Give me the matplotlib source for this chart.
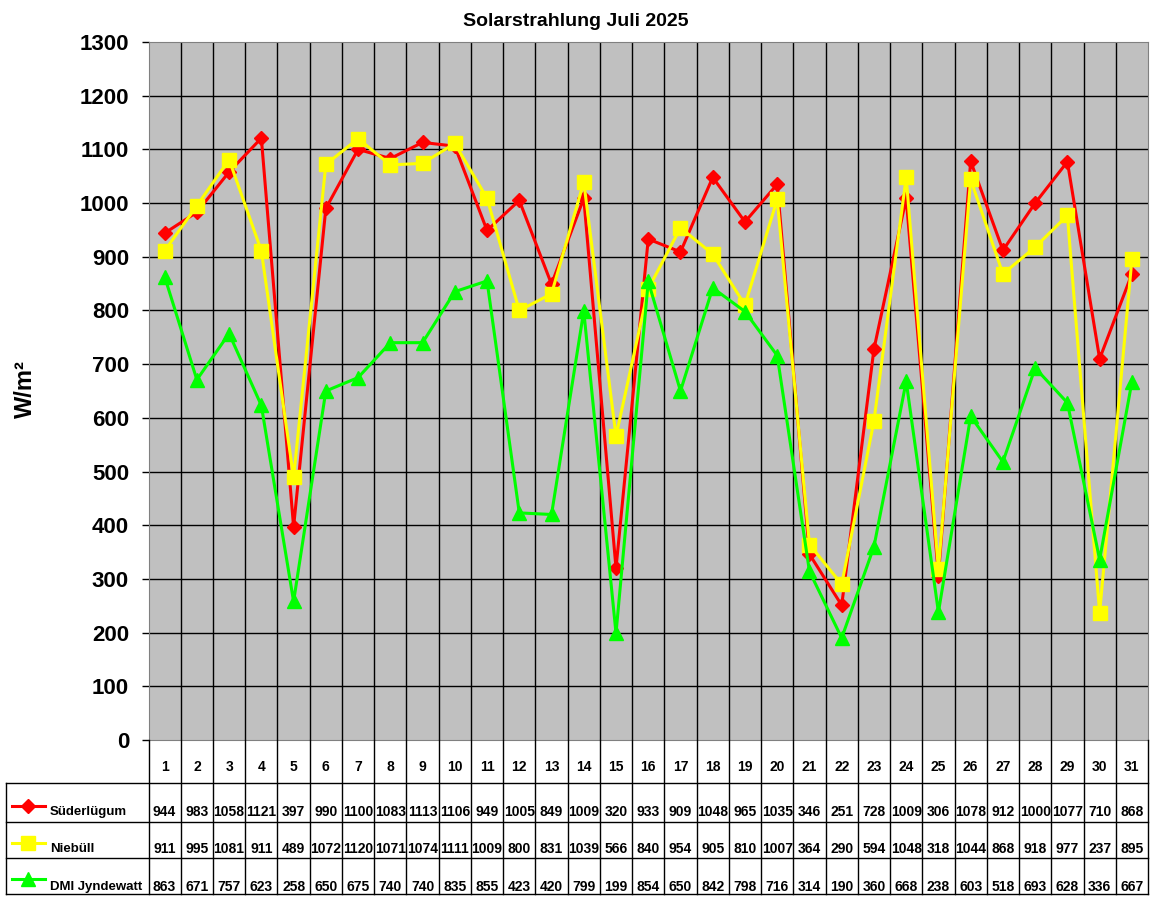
import numpy as np
import matplotlib
matplotlib.use('Agg')
import matplotlib.pyplot as plt
from matplotlib.lines import Line2D

plt.rcParams['font.family'] = ['Liberation Sans', 'DejaVu Sans']

days = list(range(1, 32))
suederluegum = [944, 983, 1058, 1121, 397, 990, 1100, 1083, 1113, 1106, 949, 1005, 849, 1009, 320,
                933, 909, 1048, 965, 1035, 346, 251, 728, 1009, 306, 1078, 912, 1000, 1077, 710, 868]
niebuell = [911, 995, 1081, 911, 489, 1072, 1120, 1071, 1074, 1111, 1009, 800, 831, 1039, 566,
            840, 954, 905, 810, 1007, 364, 290, 594, 1048, 318, 1044, 868, 918, 977, 237, 895]
dmi_jyndewatt = [863, 671, 757, 623, 258, 650, 675, 740, 740, 835, 855, 423, 420, 799, 199,
                 854, 650, 842, 798, 716, 314, 190, 360, 668, 238, 603, 518, 693, 628, 336, 667]

series_names = ['Süderlügum', 'Niebüll', 'DMI Jyndewatt']
series_data = [suederluegum, niebuell, dmi_jyndewatt]
colors = ['#FF0000', '#FFFF00', '#00FF00']
markers = ['D', 's', '^']
msizes = [7.5, 9.5, 9.5]

W, H = 1152, 900
fig = plt.figure(figsize=(W / 100, H / 100), dpi=100)

# plot area in pixels
px_left, px_right, px_top, px_bottom = 148.5, 1148, 42, 740
ax = fig.add_axes([px_left / W, 1 - px_bottom / H, (px_right - px_left) / W, (px_bottom - px_top) / H])
ax.set_facecolor('#C0C0C0')
ax.set_xlim(0.5, 31.5)
ax.set_ylim(0, 1300)
ax.set_yticks(range(0, 1301, 100))
ax.set_xticks([])
for y in range(100, 1300, 100):
    ax.axhline(y, color='black', lw=1, zorder=1)
for x in np.arange(1.5, 31.5, 1):
    ax.axvline(x, color='black', lw=1, zorder=1)
for s in ax.spines.values():
    s.set_color('#808080')
ax.tick_params(axis='y', length=5, width=1, pad=9, labelsize=16)
for lbl in ax.get_yticklabels():
    lbl.set_fontweight('bold')

for i, (vals, c, m, ms) in enumerate(zip(series_data, colors, markers, msizes)):
    ax.plot(days, vals, color=c, marker=m, markersize=ms, lw=2.2, zorder=3 + i, clip_on=False)

fig.text(576 / W, 1 - 22 / H, 'Solarstrahlung Juli 2025', ha='center', va='center',
         fontsize=14, fontweight='bold')
fig.text(25 / W, 1 - 389 / H, 'W/m²', rotation=90, ha='center', va='center',
         fontsize=17, fontweight='bold')

# data table below the plot
tab_bottom = 894
tax = fig.add_axes([px_left / W, 1 - tab_bottom / H, (px_right - px_left) / W, (tab_bottom - px_bottom) / H])
tax.set_xlim(0.5, 31.5)
tax.set_ylim(tab_bottom - px_bottom, 0)
tax.axis('off')

cw = (px_right - px_left) / 31


def px2x(px):
    return 0.5 + (px - px_left) / cw


x_left = px2x(6)
row_lines = [43, 82, 118, 154]
for x in np.arange(0.5, 32, 1):
    tax.plot([x, x], [0, 154], color='black', lw=1, clip_on=False)
for y in row_lines:
    tax.plot([x_left, 31.5], [y, y], color='black', lw=1, clip_on=False)
tax.plot([x_left, x_left], [43, 154], color='black', lw=1, clip_on=False)

for d in days:
    tax.text(d, 27, str(d), ha='center', va='center', fontsize=10, fontweight='bold')

val_y = [72, 109, 147]
legend_y = [66, 103, 139]
for name, vals, c, m, ms, vy, ly in zip(series_names, series_data, colors, markers, msizes, val_y, legend_y):
    for d, v in zip(days, vals):
        tax.text(d, vy, str(v), ha='center', va='center', fontsize=10, fontweight='bold')
    tax.add_line(Line2D([px2x(12), px2x(45)], [ly, ly], color=c, lw=2.2, clip_on=False))
    tax.plot([px2x(28.5)], [ly], marker=m, color=c, markersize=ms, clip_on=False)
    tax.text(px2x(50), vy, name, ha='left', va='center', fontsize=9.5, fontweight='bold')

fig.savefig('out.png', dpi=100)
